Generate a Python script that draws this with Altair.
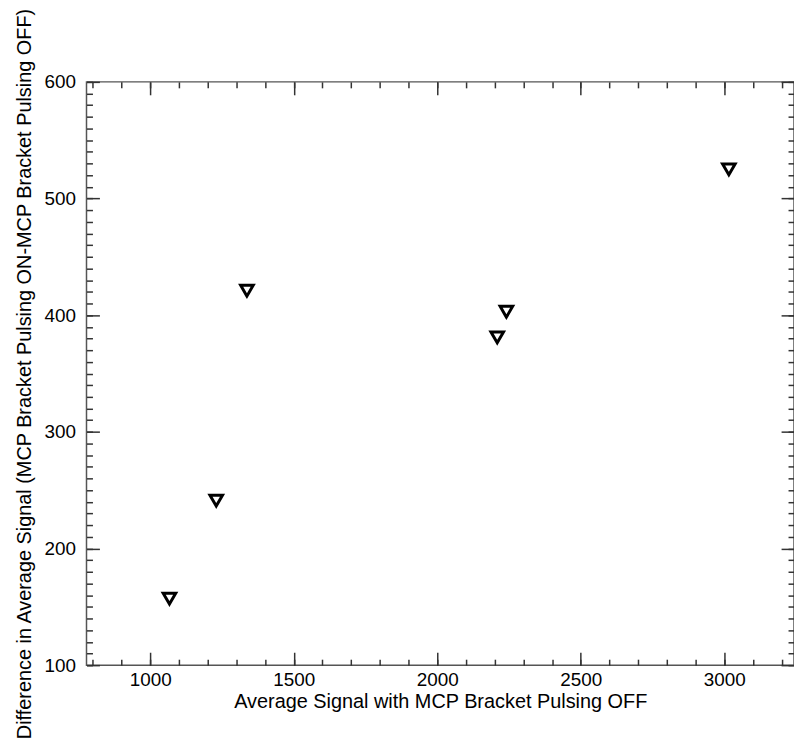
import altair as alt
import pandas as pd

signal_off = [1067, 1230, 1337, 2209, 2241, 3016]
difference = [157, 241, 421, 381, 403, 525]

x_major = [1000, 1500, 2000, 2500, 3000]
x_minor = list(range(800, 3300, 100))
y_major = [100, 200, 300, 400, 500, 600]
y_minor = list(range(100, 610, 10))

W, H = 712, 587
FONT = "Liberation Sans"

df = pd.DataFrame({"x": signal_off, "y": difference})

xs = alt.Scale(domain=[778, 3243], nice=False, zero=False)
ys = alt.Scale(domain=[100, 600], nice=False, zero=False)

x_title = "Average Signal with MCP Bracket Pulsing OFF"
y_title = "Difference in Average Signal (MCP Bracket Pulsing ON-MCP Bracket Pulsing OFF)"

main = alt.Chart(df).mark_point(
    shape="triangle-down", filled=False, color="black", strokeWidth=3, size=160, opacity=1
).encode(
    x=alt.X("x:Q", scale=xs, axis=alt.Axis(
        orient="bottom", values=x_major, ticks=False, domain=False, grid=False,
        labelFont=FONT, labelFontSize=19, labelColor="black", labelPadding=5,
        title=x_title, titleFont=FONT, titleFontSize=20, titleFontWeight="normal",
        titleColor="black", titlePadding=3, format="d")),
    y=alt.Y("y:Q", scale=ys, axis=alt.Axis(
        orient="left", values=y_major, ticks=False, domain=False, grid=False,
        labelFont=FONT, labelFontSize=19, labelColor="black", labelPadding=11,
        title=y_title, titleFont=FONT, titleFontSize=20, titleFontWeight="normal",
        titleColor="black", titlePadding=10, format="d")),
)


def tick_layer(xorient, yorient, xvals, yvals, size):
    return alt.Chart(df).mark_point(opacity=0).encode(
        x=alt.X("x:Q", scale=xs, axis=alt.Axis(
            orient=xorient, offset=-H, values=xvals, labels=False, domain=False,
            grid=False, ticks=True, tickSize=size, tickColor="#333", tickWidth=1.5,
            title="")),
        y=alt.Y("y:Q", scale=ys, axis=alt.Axis(
            orient=yorient, offset=-W, values=yvals, labels=False, domain=False,
            grid=False, ticks=True, tickSize=size, tickColor="#333", tickWidth=1.5,
            title="")),
    )


l1 = tick_layer("top", "right", x_major, y_major, 13)
l2 = tick_layer("top", "right", x_minor, y_minor, 6)
l3 = tick_layer("bottom", "left", x_major, y_major, 13)
l4 = tick_layer("bottom", "left", x_minor, y_minor, 6)

chart = alt.layer(main, l1, l2, l3, l4).resolve_axis(
    x="independent", y="independent"
).properties(
    width=W, height=H,
    autosize=alt.AutoSizeParams(type="none"),
    padding={"left": 79, "top": 72, "right": 0, "bottom": 78},
    background="white",
).configure_view(stroke="#555", strokeWidth=1.5)

chart.save("out.html", embed_options={"renderer": "svg", "actions": False})
